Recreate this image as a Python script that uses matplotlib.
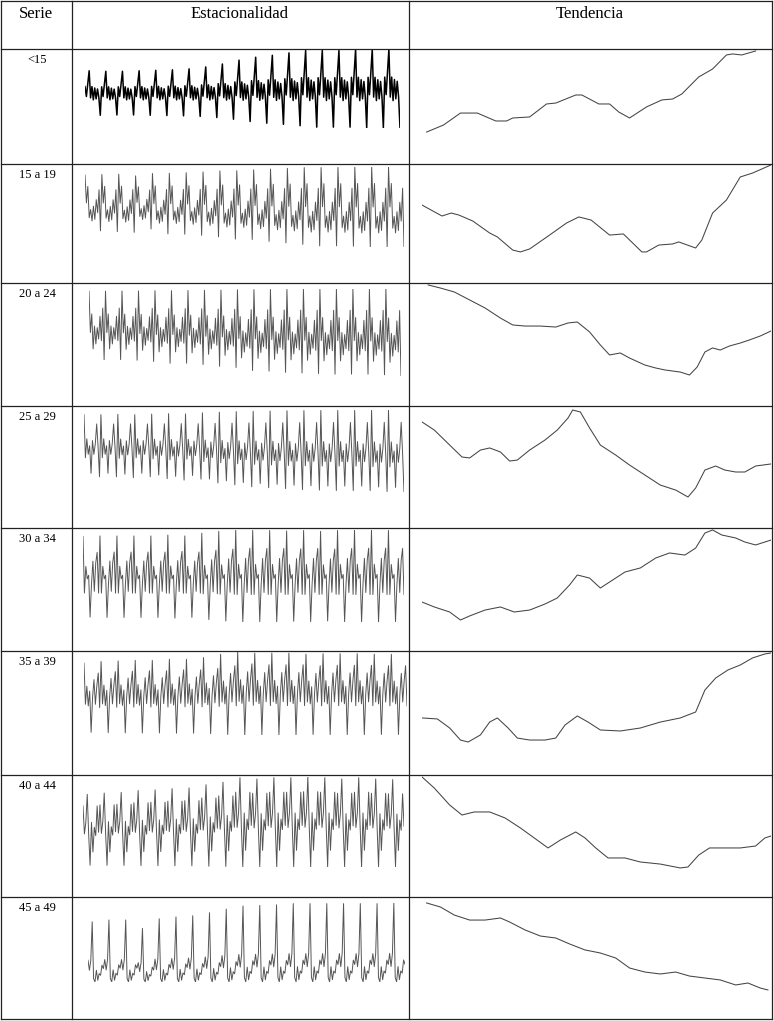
import numpy as np
import matplotlib
matplotlib.use("Agg")
import matplotlib.pyplot as plt

plt.rcParams['font.family'] = ['Liberation Serif', 'DejaVu Serif']

series = ["<15", "15 a 19", "20 a 24", "25 a 29", "30 a 34", "35 a 39", "40 a 44", "45 a 49"]
headers = ["Serie", "Estacionalidad", "Tendencia"]

# estacionalidad: patron mensual (12 meses) y escala de cada año (19 años)
pat_1 = [62, 12, 75, 142, 5, 62, -5, 55, 0, 50, 5, -83]
pat_2 = [56, -29, 21, -74, -49, -84, -39, -79, -19, -59, 11, -114]
pat_3 = [24, -103, -46, -153, -83, -138, -88, -123, -53, -128, -28, -186]
pat_4 = [42, -83, -28, -73, -48, -128, -33, -73, -43, 15, -53, -138]
pat_5 = [129, -31, 44, 9, 19, -99, -6, 59, -26, 54, 84, -31]
pat_6 = [169, 44, 99, 39, 84, -41, 64, 119, 44, 99, 139, 34]
pat_7 = [160, 75, 110, 195, 75, -20, 110, 20, 95, 70, 160, 80]
pat_8 = [66, 36, 66, 181, 11, 1, 36, 6, 26, 21, 51, 41]

esc_1 = [0.58, 0.57, 0.57, 0.58, 0.59, 0.6, 0.62, 0.66, 0.72, 0.8, 0.86, 0.9, 0.95, 1.0, 1.0, 1.0, 1.02, 1.02, 1.03]
esc_2 = [1.0, 1.02, 1.04, 0.95, 1.08, 1.09, 1.12, 1.16, 1.22, 1.23, 1.28, 1.32, 1.36, 1.40, 1.40, 1.41, 1.43, 1.43, 1.43]
esc_3 = [1.0, 1.0, 1.01, 1.03, 1.06, 1.06, 1.08, 1.11, 1.13, 1.18, 1.19, 1.21, 1.22, 1.23, 1.24, 1.24, 1.24, 1.25, 1.27]
esc_4 = [1.0, 1.0, 1.02, 1.0, 1.04, 1.07, 1.05, 1.13, 1.17, 1.21, 1.23, 1.25, 1.27, 1.28, 1.29, 1.29, 1.29, 1.31, 1.32]
esc_5 = [1.0, 1.01, 1.01, 1.01, 1.01, 1.03, 1.01, 1.07, 1.11, 1.14, 1.13, 1.13, 1.12, 1.13, 1.11, 1.13, 1.14, 1.14, 1.13]
esc_6 = [1.0, 1.03, 1.04, 1.05, 1.05, 1.07, 1.07, 1.10, 1.16, 1.20, 1.18, 1.18, 1.18, 1.16, 1.17, 1.17, 1.17, 1.16, 1.16]
esc_7 = [1.0, 1.02, 1.03, 1.06, 1.07, 1.09, 1.10, 1.15, 1.19, 1.26, 1.24, 1.26, 1.26, 1.27, 1.26, 1.24, 1.26, 1.24, 1.23]
esc_8 = [1.0, 1.03, 1.03, 0.89, 1.05, 1.08, 1.10, 1.15, 1.21, 1.26, 1.27, 1.28, 1.30, 1.30, 1.30, 1.30, 1.30, 1.30, 1.31]

# tendencia: mes y nivel (0-100)
tm_1 = [3, 14, 25, 36, 48, 55, 59, 70, 81, 87, 100, 104, 115, 122, 128, 135, 146, 156, 163, 169, 180, 189, 198, 202, 208, 217]
tv_1 = [27.8, 33.9, 44.3, 44.3, 37.4, 37.4, 40.0, 40.9, 52.2, 53.0, 60.0, 60.0, 52.2, 52.2, 45.2, 40.0, 49.6, 55.7, 56.5, 60.9, 75.7, 82.6, 94.8, 95.7, 94.8, 98.3]
tm_2 = [0, 13, 19, 24, 33, 44, 49, 59, 64, 70, 83, 94, 102, 110, 122, 131, 143, 146, 154, 163, 167, 178, 182, 189, 198, 207, 215, 227]
tv_2 = [65.5, 56.3, 58.8, 57.1, 52.1, 42.0, 38.7, 27.7, 26.1, 28.6, 40.3, 50.4, 55.5, 52.9, 40.3, 41.2, 26.1, 26.1, 31.9, 32.8, 34.5, 29.4, 36.1, 58.8, 69.7, 89.1, 92.4, 99.2]
tm_3 = [4, 12, 21, 31, 41, 51, 59, 67, 77, 87, 95, 101, 109, 116, 122, 129, 135, 145, 152, 158, 168, 174, 179, 184, 189, 194, 200, 207, 213, 220, 227]
tv_3 = [98.4, 95.9, 92.7, 86.2, 79.7, 71.5, 65.9, 65.0, 65.0, 64.2, 67.5, 68.3, 60.2, 49.6, 41.5, 43.1, 39.0, 33.3, 30.9, 29.3, 27.6, 25.2, 31.7, 43.9, 47.2, 45.5, 48.8, 51.2, 53.7, 56.9, 61.0]
tm_4 = [0, 8, 18, 26, 31, 38, 44, 51, 57, 62, 70, 80, 88, 95, 98, 103, 109, 116, 126, 135, 145, 155, 165, 173, 178, 184, 191, 197, 204, 210, 217, 227]
tv_4 = [86.9, 80.3, 68.0, 58.2, 57.4, 63.9, 65.6, 62.3, 54.9, 55.7, 63.9, 72.1, 80.3, 90.2, 96.7, 95.1, 82.0, 68.0, 59.8, 51.6, 43.4, 35.2, 31.1, 25.4, 32.8, 47.5, 50.8, 47.5, 45.9, 45.9, 50.8, 52.5]
tm_5 = [0, 8, 18, 25, 31, 41, 51, 60, 70, 80, 88, 96, 101, 109, 116, 124, 132, 142, 152, 161, 171, 178, 184, 189, 195, 204, 210, 217, 227]
tv_5 = [39.8, 35.8, 31.7, 25.2, 28.5, 33.3, 35.8, 31.7, 33.3, 38.2, 43.1, 53.7, 61.8, 59.3, 51.2, 57.7, 64.2, 67.5, 75.6, 79.7, 78.0, 83.7, 95.9, 98.4, 94.3, 91.9, 88.6, 86.2, 90.2]
tm_6 = [0, 10, 18, 25, 30, 38, 44, 49, 56, 62, 70, 80, 87, 93, 101, 108, 116, 129, 142, 155, 168, 178, 184, 191, 199, 207, 215, 223, 227]
tv_6 = [46.0, 45.2, 37.9, 28.2, 26.6, 32.3, 42.7, 46.0, 37.9, 29.8, 28.2, 28.2, 29.8, 40.3, 47.6, 42.7, 36.3, 35.5, 37.9, 42.7, 46.0, 50.8, 68.5, 78.2, 84.7, 88.7, 94.4, 97.6, 98.4]
tm_7 = [0, 8, 18, 26, 34, 44, 54, 64, 73, 82, 90, 100, 106, 113, 121, 132, 142, 155, 168, 173, 180, 187, 197, 207, 217, 223, 227]
tv_7 = [98.4, 89.3, 75.4, 67.2, 69.7, 69.7, 64.8, 56.6, 48.4, 40.2, 46.7, 53.3, 48.4, 40.2, 32.0, 32.0, 28.7, 27.0, 23.8, 24.6, 34.4, 40.2, 40.2, 40.2, 41.8, 48.4, 50.0]
tm_8 = [3, 12, 21, 31, 41, 51, 57, 67, 77, 87, 96, 106, 116, 126, 135, 145, 155, 165, 174, 184, 194, 204, 212, 220, 225]
tv_8 = [95.1, 91.8, 85.2, 81.1, 81.1, 82.8, 79.5, 73.0, 68.0, 66.4, 61.5, 56.6, 54.1, 50.0, 41.8, 38.5, 36.9, 38.5, 35.2, 33.6, 32.0, 27.9, 29.5, 25.4, 23.8]

pats = [pat_1, pat_2, pat_3, pat_4, pat_5, pat_6, pat_7, pat_8]
escs = [esc_1, esc_2, esc_3, esc_4, esc_5, esc_6, esc_7, esc_8]
tms = [tm_1, tm_2, tm_3, tm_4, tm_5, tm_6, tm_7, tm_8]
tvs = [tv_1, tv_2, tv_3, tv_4, tv_5, tv_6, tv_7, tv_8]

W, H = 774, 1021
fig = plt.figure(figsize=(W / 100, H / 100), dpi=100)

def rect(x0, y0, x1, y1):
    return [x0 / W, 1 - y1 / H, (x1 - x0) / W, (y1 - y0) / H]

# layout (pixels)
row_y = [49, 164, 283, 406, 528, 651, 775, 897, 1019]
col_x = [1, 72, 409, 772]
seas_box = [(85, 49, 400, 128), (85, 167, 404, 247), (89, 289, 401, 376), (84, 410, 404, 492),
            (83, 530, 404, 622), (84, 652, 407, 735), (83, 777, 404, 867), (88, 903, 405, 982)]

for i in range(8):
    x0, y0, x1, y1 = seas_box[i]
    ax = fig.add_axes(rect(x0, y0, x1, y1))
    vals = np.concatenate([np.array(pats[i]) * s for s in escs[i]])
    if i == 0:
        ax.plot(np.arange(len(vals)), vals, color='black', lw=1.1)
    else:
        ax.plot(np.arange(len(vals)), vals, color='#555555', lw=0.7)
    ax.set_xlim(0, len(vals) - 1)
    ax.set_ylim(vals.min(), vals.max())
    ax.axis('off')

    ax2 = fig.add_axes(rect(422, row_y[i], 771, row_y[i + 1]))
    ax2.plot(tms[i], tvs[i], color='#444444', lw=0.75)
    ax2.set_xlim(0, 227)
    ax2.set_ylim(0, 100)
    ax2.axis('off')

    fig.text(37 / W, 1 - (row_y[i] + 14) / H, series[i], ha='center', va='baseline', fontsize=9)

# table lines
for y in [1] + row_y:
    fig.add_artist(plt.Line2D([col_x[0] / W, col_x[-1] / W], [1 - y / H, 1 - y / H],
                              transform=fig.transFigure, color='#222222', lw=0.9))
for x in col_x:
    fig.add_artist(plt.Line2D([x / W, x / W], [1 - 1 / H, 1 - row_y[-1] / H],
                              transform=fig.transFigure, color='#222222', lw=0.9))

fig.text(36 / W, 1 - 18 / H, headers[0], ha='center', va='baseline', fontsize=12)
fig.text(240 / W, 1 - 18 / H, headers[1], ha='center', va='baseline', fontsize=12)
fig.text(590 / W, 1 - 18 / H, headers[2], ha='center', va='baseline', fontsize=12)

fig.savefig('out.png', dpi=100)
